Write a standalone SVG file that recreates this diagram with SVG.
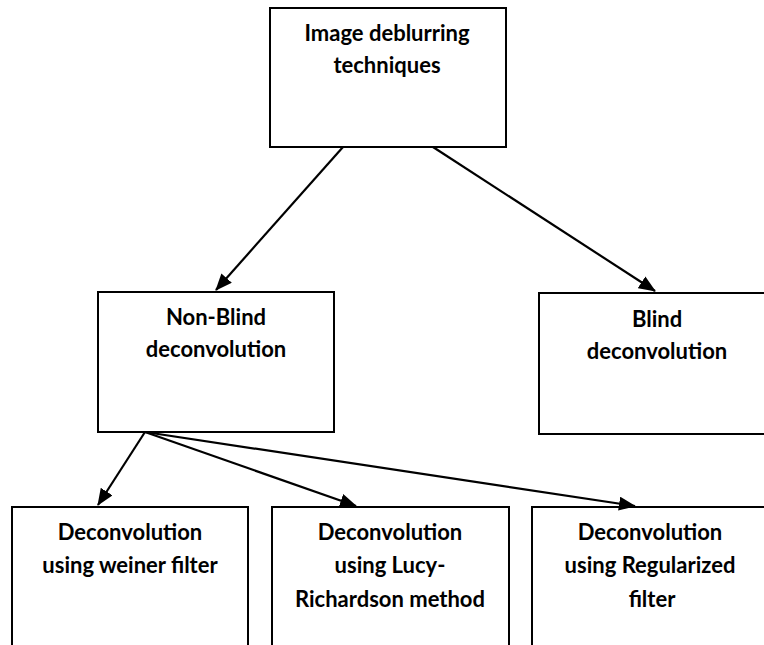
<svg xmlns="http://www.w3.org/2000/svg" width="764" height="645" viewBox="0 0 764 645">
<style>
.box{fill:#fff;stroke:#000;stroke-width:2}
.t{font-family:Lato,"Liberation Sans",sans-serif;font-weight:bold;font-size:22px;fill:#000;text-anchor:middle}
.c{stroke:#000;stroke-width:2.2;fill:none;marker-end:url(#ah)}
</style>
<defs>
<marker id="ah" markerUnits="userSpaceOnUse" markerWidth="18" markerHeight="14" refX="16" refY="7" orient="auto">
<path d="M0,0 L17,7 L0,14 Z" fill="#000"/>
</marker>
</defs>
<rect width="764" height="645" fill="#fff"/>
<g id="n-root"><rect class="box" x="270" y="8" width="236" height="139"/>
<text class="t" x="387" y="41">Image deblurring</text><text class="t" x="387" y="73">techniques</text></g>
<g id="n-nonblind"><rect class="box" x="98" y="292" width="236" height="140"/>
<text class="t" x="216" y="325">Non-Blind</text><text class="t" x="216" y="357">deconvolution</text></g>
<g id="n-blind"><rect class="box" x="539" y="293" width="236" height="141"/>
<text class="t" x="657" y="327">Blind</text><text class="t" x="657" y="359">deconvolution</text></g>
<g id="n-weiner"><rect class="box" x="12" y="507" width="236" height="150"/>
<text class="t" x="130" y="540">Deconvolution</text><text class="t" x="130" y="573">using weiner filter</text></g>
<g id="n-lucy"><rect class="box" x="272" y="507" width="237" height="150"/>
<text class="t" x="390" y="540">Deconvolution</text><text class="t" x="390" y="573">using Lucy-</text><text class="t" x="390" y="607">Richardson method</text></g>
<g id="n-reg"><rect class="box" x="532" y="507" width="240" height="150"/>
<text class="t" x="650" y="540">Deconvolution</text><text class="t" x="650" y="573">using Regularized</text><text class="t" x="652" y="607">filter</text></g>
<g id="connectors">
<line class="c" x1="343" y1="147" x2="216" y2="290"/>
<line class="c" x1="433" y1="147" x2="655" y2="291"/>
<line class="c" x1="145" y1="432" x2="98" y2="505"/>
<line class="c" x1="145" y1="432" x2="356" y2="506"/>
<line class="c" x1="145" y1="432" x2="635" y2="506"/>
</g>
</svg>
